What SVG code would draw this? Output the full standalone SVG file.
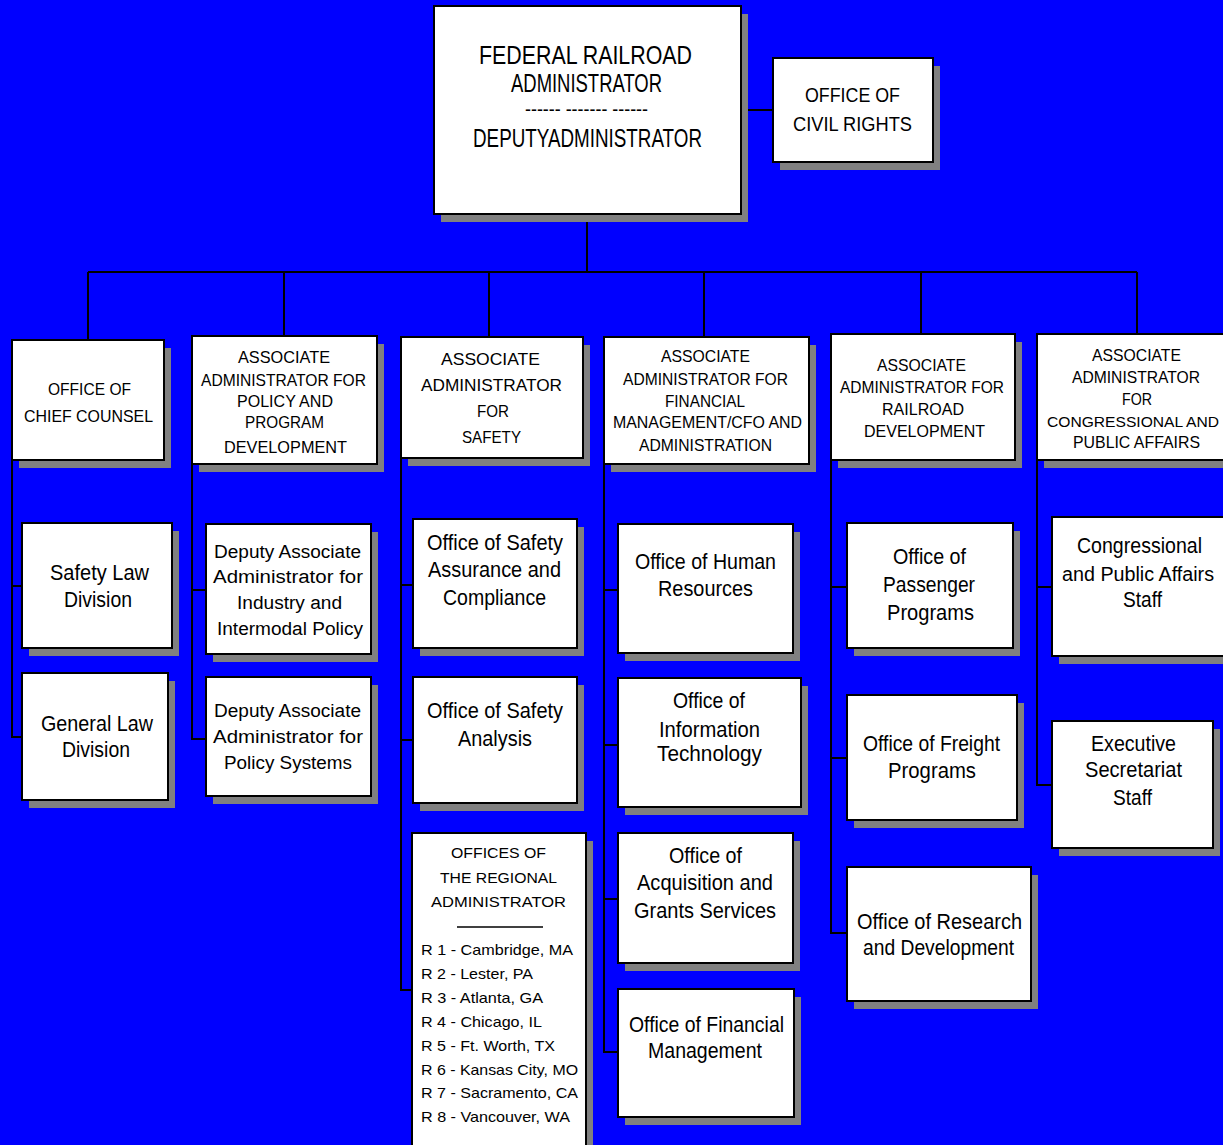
<svg xmlns="http://www.w3.org/2000/svg" width="1223" height="1145" viewBox="0 0 1223 1145">
<style>
.bg{fill:#0000FF}
.sh{fill:#808080}
.bx{fill:#FFFFFF;stroke:#000000;stroke-width:2}
.t{font-family:"Liberation Sans",Arial,sans-serif;fill:#000000}
.f26{font-size:26px}
.f20{font-size:20px}
.f17{font-size:17px}
.f22{font-size:22px}
.f18{font-size:18px}
.f15{font-size:15px}
.cn{fill:none;stroke:#000000;stroke-width:2}
</style>
<rect class="bg" x="0" y="0" width="1223" height="1145"/>
<g id="connectors">
<path class="cn" d="M587 214 V272 M741 110 H773 M88 272 H1137 M88 272 V340 M284 272 V336 M489 272 V337 M704 272 V337 M921 272 V334 M1137 272 V334"/>
<path class="cn" d="M12 460 V737 H22 M12 586 H22"/>
<path class="cn" d="M192 464 V739 H206 M192 590 H206"/>
<path class="cn" d="M401 458 V990 H412 M401 585 H413 M401 740 H413"/>
<path class="cn" d="M604 464 V1052 H618 M604 590 H618 M604 745 H618 M604 899 H618"/>
<path class="cn" d="M831 460 V933 H847 M831 587 H847 M831 758 H847"/>
<path class="cn" d="M1037 460 V785 H1052 M1037 587 H1052"/>
</g>
<g id="administrator">
<rect class="sh" x="441" y="14" width="307" height="208"/>
<rect class="bx" x="434" y="6" width="307" height="208"/>
<text class="t f26" x="479" y="64" textLength="213" lengthAdjust="spacingAndGlyphs">FEDERAL RAILROAD</text>
<text class="t f26" x="511" y="92" textLength="151" lengthAdjust="spacingAndGlyphs">ADMINISTRATOR</text>
<text class="t f20" x="525" y="116" textLength="123" lengthAdjust="spacingAndGlyphs">------ ------- ------</text>
<text class="t f26" x="473" y="147" textLength="229" lengthAdjust="spacingAndGlyphs">DEPUTYADMINISTRATOR</text>
</g>
<g id="civil-rights">
<rect class="sh" x="780" y="66" width="160" height="104"/>
<rect class="bx" x="773" y="58" width="160" height="104"/>
<text class="t f20" x="805" y="102" textLength="95" lengthAdjust="spacingAndGlyphs">OFFICE OF</text>
<text class="t f20" x="793" y="131" textLength="119" lengthAdjust="spacingAndGlyphs">CIVIL RIGHTS</text>
</g>
<g id="chief-counsel">
<rect class="sh" x="19" y="348" width="152" height="120"/>
<rect class="bx" x="12" y="340" width="152" height="120"/>
<text class="t f17" x="48" y="395" textLength="83" lengthAdjust="spacingAndGlyphs">OFFICE OF</text>
<text class="t f17" x="24" y="422" textLength="129" lengthAdjust="spacingAndGlyphs">CHIEF COUNSEL</text>
</g>
<g id="policy">
<rect class="sh" x="199" y="344" width="185" height="128"/>
<rect class="bx" x="192" y="336" width="185" height="128"/>
<text class="t f17" x="238" y="363" textLength="92" lengthAdjust="spacingAndGlyphs">ASSOCIATE</text>
<text class="t f17" x="201" y="386" textLength="165" lengthAdjust="spacingAndGlyphs">ADMINISTRATOR FOR</text>
<text class="t f17" x="237" y="407" textLength="96" lengthAdjust="spacingAndGlyphs">POLICY AND</text>
<text class="t f17" x="245" y="428" textLength="79" lengthAdjust="spacingAndGlyphs">PROGRAM</text>
<text class="t f17" x="224" y="453" textLength="123" lengthAdjust="spacingAndGlyphs">DEVELOPMENT</text>
</g>
<g id="safety">
<rect class="sh" x="408" y="345" width="182" height="121"/>
<rect class="bx" x="401" y="337" width="182" height="121"/>
<text class="t f17" x="441" y="365" textLength="99" lengthAdjust="spacingAndGlyphs">ASSOCIATE</text>
<text class="t f17" x="421" y="391" textLength="141" lengthAdjust="spacingAndGlyphs">ADMINISTRATOR</text>
<text class="t f17" x="477" y="417" textLength="32" lengthAdjust="spacingAndGlyphs">FOR</text>
<text class="t f17" x="462" y="443" textLength="59" lengthAdjust="spacingAndGlyphs">SAFETY</text>
</g>
<g id="financial">
<rect class="sh" x="611" y="345" width="205" height="127"/>
<rect class="bx" x="604" y="337" width="205" height="127"/>
<text class="t f17" x="661" y="362" textLength="89" lengthAdjust="spacingAndGlyphs">ASSOCIATE</text>
<text class="t f17" x="623" y="385" textLength="165" lengthAdjust="spacingAndGlyphs">ADMINISTRATOR FOR</text>
<text class="t f17" x="665" y="407" textLength="80" lengthAdjust="spacingAndGlyphs">FINANCIAL</text>
<text class="t f17" x="613" y="428" textLength="189" lengthAdjust="spacingAndGlyphs">MANAGEMENT/CFO AND</text>
<text class="t f17" x="639" y="451" textLength="133" lengthAdjust="spacingAndGlyphs">ADMINISTRATION</text>
</g>
<g id="railroad-development">
<rect class="sh" x="838" y="342" width="184" height="126"/>
<rect class="bx" x="831" y="334" width="184" height="126"/>
<text class="t f17" x="877" y="371" textLength="89" lengthAdjust="spacingAndGlyphs">ASSOCIATE</text>
<text class="t f17" x="840" y="393" textLength="164" lengthAdjust="spacingAndGlyphs">ADMINISTRATOR FOR</text>
<text class="t f17" x="882" y="415" textLength="82" lengthAdjust="spacingAndGlyphs">RAILROAD</text>
<text class="t f17" x="864" y="437" textLength="121" lengthAdjust="spacingAndGlyphs">DEVELOPMENT</text>
</g>
<g id="congressional">
<rect class="sh" x="1044" y="342" width="200" height="126"/>
<rect class="bx" x="1037" y="334" width="200" height="126"/>
<text class="t f17" x="1092" y="361" textLength="89" lengthAdjust="spacingAndGlyphs">ASSOCIATE</text>
<text class="t f17" x="1072" y="383" textLength="128" lengthAdjust="spacingAndGlyphs">ADMINISTRATOR</text>
<text class="t f17" x="1122" y="405" textLength="30" lengthAdjust="spacingAndGlyphs">FOR</text>
<text class="t" style="font-size:15.5px" x="1047" y="427" textLength="172" lengthAdjust="spacingAndGlyphs">CONGRESSIONAL AND</text>
<text class="t f17" x="1073" y="448" textLength="127" lengthAdjust="spacingAndGlyphs">PUBLIC AFFAIRS</text>
</g>
<g id="safety-law">
<rect class="sh" x="29" y="531" width="150" height="125"/>
<rect class="bx" x="22" y="523" width="150" height="125"/>
<text class="t f22" x="50" y="580" textLength="99" lengthAdjust="spacingAndGlyphs">Safety Law</text>
<text class="t f22" x="64" y="607" textLength="68" lengthAdjust="spacingAndGlyphs">Division</text>
</g>
<g id="general-law">
<rect class="sh" x="29" y="681" width="146" height="127"/>
<rect class="bx" x="22" y="673" width="146" height="127"/>
<text class="t f22" x="41" y="731" textLength="112" lengthAdjust="spacingAndGlyphs">General Law</text>
<text class="t f22" x="62" y="757" textLength="68" lengthAdjust="spacingAndGlyphs">Division</text>
</g>
<g id="deputy-industry">
<rect class="sh" x="213" y="532" width="165" height="130"/>
<rect class="bx" x="206" y="524" width="165" height="130"/>
<text class="t f18" x="214" y="558" textLength="147" lengthAdjust="spacingAndGlyphs">Deputy Associate</text>
<text class="t f18" x="213" y="583" textLength="150" lengthAdjust="spacingAndGlyphs">Administrator for</text>
<text class="t f18" x="237" y="609" textLength="105" lengthAdjust="spacingAndGlyphs">Industry and</text>
<text class="t f18" x="217" y="635" textLength="146" lengthAdjust="spacingAndGlyphs">Intermodal Policy</text>
</g>
<g id="deputy-policy-systems">
<rect class="sh" x="213" y="685" width="165" height="119"/>
<rect class="bx" x="206" y="677" width="165" height="119"/>
<text class="t f18" x="214" y="717" textLength="147" lengthAdjust="spacingAndGlyphs">Deputy Associate</text>
<text class="t f18" x="213" y="743" textLength="150" lengthAdjust="spacingAndGlyphs">Administrator for</text>
<text class="t f18" x="224" y="769" textLength="128" lengthAdjust="spacingAndGlyphs">Policy Systems</text>
</g>
<g id="safety-assurance">
<rect class="sh" x="420" y="527" width="164" height="129"/>
<rect class="bx" x="413" y="519" width="164" height="129"/>
<text class="t f22" x="427" y="550" textLength="136" lengthAdjust="spacingAndGlyphs">Office of Safety</text>
<text class="t f22" x="428" y="577" textLength="133" lengthAdjust="spacingAndGlyphs">Assurance and</text>
<text class="t f22" x="443" y="605" textLength="103" lengthAdjust="spacingAndGlyphs">Compliance</text>
</g>
<g id="safety-analysis">
<rect class="sh" x="420" y="685" width="164" height="126"/>
<rect class="bx" x="413" y="677" width="164" height="126"/>
<text class="t f22" x="427" y="718" textLength="136" lengthAdjust="spacingAndGlyphs">Office of Safety</text>
<text class="t f22" x="458" y="746" textLength="74" lengthAdjust="spacingAndGlyphs">Analysis</text>
</g>
<g id="regional">
<rect class="sh" x="419" y="841" width="174" height="330"/>
<rect class="bx" x="412" y="833" width="174" height="330"/>
<text class="t f15" x="451" y="858" textLength="95" lengthAdjust="spacingAndGlyphs">OFFICES OF</text>
<text class="t f15" x="440" y="883" textLength="117" lengthAdjust="spacingAndGlyphs">THE REGIONAL</text>
<text class="t f15" x="431" y="907" textLength="135" lengthAdjust="spacingAndGlyphs">ADMINISTRATOR</text>
<path d="M457 927 H543" stroke="#000000" stroke-width="1.5"/>
<text class="t f15" x="421" y="955" textLength="152" lengthAdjust="spacingAndGlyphs">R 1 - Cambridge, MA</text>
<text class="t f15" x="421" y="979" textLength="112" lengthAdjust="spacingAndGlyphs">R 2 - Lester, PA</text>
<text class="t f15" x="421" y="1003" textLength="122" lengthAdjust="spacingAndGlyphs">R 3 - Atlanta, GA</text>
<text class="t f15" x="421" y="1027" textLength="121" lengthAdjust="spacingAndGlyphs">R 4 - Chicago, IL</text>
<text class="t f15" x="421" y="1051" textLength="134" lengthAdjust="spacingAndGlyphs">R 5 - Ft. Worth, TX</text>
<text class="t f15" x="421" y="1075" textLength="157" lengthAdjust="spacingAndGlyphs">R 6 - Kansas City, MO</text>
<text class="t f15" x="421" y="1098" textLength="157" lengthAdjust="spacingAndGlyphs">R 7 - Sacramento, CA</text>
<text class="t f15" x="421" y="1122" textLength="149" lengthAdjust="spacingAndGlyphs">R 8 - Vancouver, WA</text>
</g>
<g id="human-resources">
<rect class="sh" x="625" y="532" width="175" height="129"/>
<rect class="bx" x="618" y="524" width="175" height="129"/>
<text class="t f22" x="635" y="569" textLength="141" lengthAdjust="spacingAndGlyphs">Office of Human</text>
<text class="t f22" x="658" y="596" textLength="95" lengthAdjust="spacingAndGlyphs">Resources</text>
</g>
<g id="information-technology">
<rect class="sh" x="625" y="686" width="183" height="129"/>
<rect class="bx" x="618" y="678" width="183" height="129"/>
<text class="t f22" x="673" y="708" textLength="72" lengthAdjust="spacingAndGlyphs">Office of</text>
<text class="t f22" x="659" y="737" textLength="101" lengthAdjust="spacingAndGlyphs">Information</text>
<text class="t f22" x="657" y="761" textLength="105" lengthAdjust="spacingAndGlyphs">Technology</text>
</g>
<g id="acquisition">
<rect class="sh" x="625" y="841" width="175" height="130"/>
<rect class="bx" x="618" y="833" width="175" height="130"/>
<text class="t f22" x="669" y="863" textLength="73" lengthAdjust="spacingAndGlyphs">Office of</text>
<text class="t f22" x="637" y="890" textLength="136" lengthAdjust="spacingAndGlyphs">Acquisition and</text>
<text class="t f22" x="634" y="918" textLength="142" lengthAdjust="spacingAndGlyphs">Grants Services</text>
</g>
<g id="financial-management">
<rect class="sh" x="625" y="997" width="176" height="128"/>
<rect class="bx" x="618" y="989" width="176" height="128"/>
<text class="t f22" x="629" y="1032" textLength="155" lengthAdjust="spacingAndGlyphs">Office of Financial</text>
<text class="t f22" x="648" y="1058" textLength="114" lengthAdjust="spacingAndGlyphs">Management</text>
</g>
<g id="passenger">
<rect class="sh" x="854" y="531" width="166" height="125"/>
<rect class="bx" x="847" y="523" width="166" height="125"/>
<text class="t f22" x="893" y="564" textLength="73" lengthAdjust="spacingAndGlyphs">Office of</text>
<text class="t f22" x="883" y="592" textLength="92" lengthAdjust="spacingAndGlyphs">Passenger</text>
<text class="t f22" x="887" y="620" textLength="87" lengthAdjust="spacingAndGlyphs">Programs</text>
</g>
<g id="freight">
<rect class="sh" x="854" y="703" width="170" height="125"/>
<rect class="bx" x="847" y="695" width="170" height="125"/>
<text class="t f22" x="863" y="751" textLength="137" lengthAdjust="spacingAndGlyphs">Office of Freight</text>
<text class="t f22" x="888" y="778" textLength="88" lengthAdjust="spacingAndGlyphs">Programs</text>
</g>
<g id="research">
<rect class="sh" x="854" y="875" width="184" height="134"/>
<rect class="bx" x="847" y="867" width="184" height="134"/>
<text class="t f22" x="857" y="929" textLength="165" lengthAdjust="spacingAndGlyphs">Office of Research</text>
<text class="t f22" x="863" y="955" textLength="151" lengthAdjust="spacingAndGlyphs">and Development</text>
</g>
<g id="congressional-staff">
<rect class="sh" x="1059" y="525" width="190" height="139"/>
<rect class="bx" x="1052" y="517" width="190" height="139"/>
<text class="t f22" x="1077" y="553" textLength="125" lengthAdjust="spacingAndGlyphs">Congressional</text>
<text class="t f20" x="1062" y="581" textLength="152" lengthAdjust="spacingAndGlyphs">and Public Affairs</text>
<text class="t f22" x="1123" y="607" textLength="39" lengthAdjust="spacingAndGlyphs">Staff</text>
</g>
<g id="executive-secretariat">
<rect class="sh" x="1059" y="729" width="161" height="127"/>
<rect class="bx" x="1052" y="721" width="161" height="127"/>
<text class="t f22" x="1091" y="751" textLength="85" lengthAdjust="spacingAndGlyphs">Executive</text>
<text class="t f22" x="1085" y="777" textLength="97" lengthAdjust="spacingAndGlyphs">Secretariat</text>
<text class="t f22" x="1113" y="805" textLength="39" lengthAdjust="spacingAndGlyphs">Staff</text>
</g>
</svg>
